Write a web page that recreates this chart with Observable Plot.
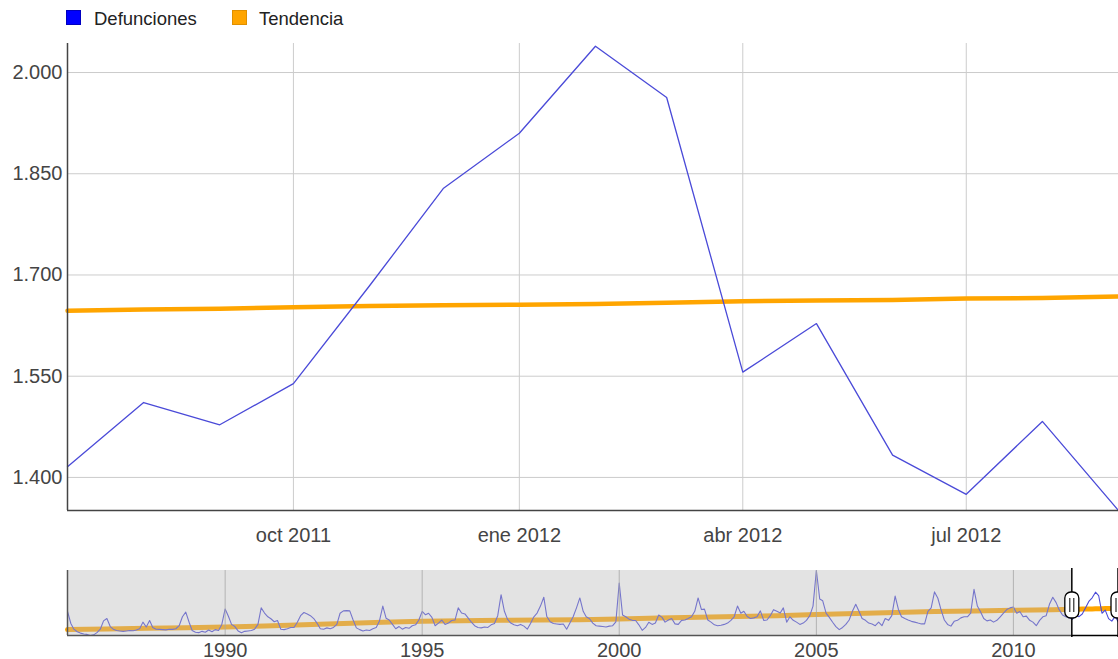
<!DOCTYPE html>
<html><head><meta charset="utf-8">
<script src="https://cdn.jsdelivr.net/npm/d3@7"></script>
<script src="https://cdn.jsdelivr.net/npm/@observablehq/plot@0.6"></script>
<style>
body{margin:0;background:#fff;font-family:"Liberation Sans",Arial,sans-serif;overflow:hidden}
#legend{height:36px;position:relative;font-size:18.5px;color:#222}
.sw{position:absolute;top:10px;width:15px;height:15px;box-sizing:border-box}
.lt{position:absolute;top:8px;line-height:22px}
#main,#mini{line-height:0}
</style></head><body>
<div id="legend"></div>
<div id="main"></div>
<div id="mini"></div>
<script>
// ---- Data: monthly deaths (Defunciones), Jan..Dec each year ----
const m1986 = [1597, 1320, 1190, 1130, 1100, 1080, 1070, 1045, 1060, 1110, 1190, 1380];
const m1987 = [1434, 1250, 1190, 1160, 1150, 1140, 1150, 1160, 1155, 1170, 1200, 1352];
const m1988 = [1240, 1390, 1230, 1190, 1185, 1180, 1175, 1190, 1185, 1200, 1270, 1475];
const m1989 = [1580, 1350, 1160, 1120, 1110, 1140, 1120, 1170, 1130, 1180, 1160, 1300];
const m1990 = [1654, 1480, 1300, 1250, 1150, 1110, 1140, 1150, 1160, 1190, 1300, 1680];
const m1991 = [1560, 1475, 1430, 1360, 1390, 1190, 1180, 1200, 1230, 1230, 1350, 1500];
const m1992 = [1573, 1540, 1500, 1434, 1330, 1200, 1190, 1220, 1200, 1230, 1300, 1556];
const m1993 = [1610, 1615, 1610, 1400, 1220, 1180, 1150, 1170, 1160, 1200, 1230, 1380];
const m1994 = [1720, 1440, 1400, 1300, 1200, 1250, 1190, 1230, 1210, 1270, 1290, 1400];
const m1995 = [1597, 1520, 1556, 1460, 1270, 1330, 1400, 1300, 1330, 1390, 1400, 1679];
const m1996 = [1560, 1540, 1450, 1350, 1270, 1230, 1220, 1240, 1230, 1290, 1320, 1500];
const m1997 = [1981, 1600, 1420, 1330, 1290, 1270, 1300, 1260, 1190, 1320, 1475, 1560];
const m1998 = [1720, 1924, 1480, 1360, 1320, 1310, 1300, 1310, 1190, 1330, 1480, 1680];
const m1999 = [1907, 1600, 1475, 1430, 1330, 1270, 1260, 1250, 1240, 1260, 1270, 1360];
const m2000 = [2251, 1515, 1475, 1420, 1393, 1390, 1290, 1164, 1230, 1350, 1300, 1330];
const m2001 = [1515, 1460, 1352, 1400, 1434, 1311, 1300, 1393, 1400, 1434, 1475, 1600];
const m2002 = [1907, 1640, 1650, 1400, 1352, 1290, 1270, 1280, 1300, 1330, 1393, 1475];
const m2003 = [1720, 1556, 1600, 1480, 1434, 1450, 1475, 1610, 1393, 1400, 1500, 1638];
const m2004 = [1600, 1560, 1679, 1350, 1475, 1393, 1352, 1300, 1330, 1393, 1500, 1720];
const m2005 = [2537, 1883, 1842, 1560, 1460, 1350, 1250, 1180, 1230, 1300, 1400, 1600];
const m2006 = [1760, 1597, 1434, 1393, 1330, 1311, 1270, 1352, 1270, 1434, 1393, 1500];
const m2007 = [1948, 1638, 1475, 1434, 1400, 1370, 1352, 1330, 1311, 1311, 1597, 1679];
const m2008 = [2046, 1900, 1640, 1400, 1300, 1260, 1370, 1393, 1450, 1475, 1475, 1556];
const m2009 = [2104, 1720, 1597, 1434, 1380, 1400, 1352, 1393, 1475, 1556, 1640, 1679];
const m2010 = [1700, 1556, 1597, 1475, 1490, 1393, 1352, 1270, 1393, 1475, 1500, 1760];
const m2011 = [1924, 1800, 1638, 1515, 1475, 1450, 1416, 1511, 1478, 1539, 1684, 1828];
const m2012 = [1910, 2039, 1963, 1556, 1628, 1433, 1375, 1483, 1351];
const firstYear = 1986;
const yearlySeries = [m1986, m1987, m1988, m1989, m1990, m1991, m1992, m1993, m1994, m1995,
  m1996, m1997, m1998, m1999, m2000, m2001, m2002, m2003, m2004, m2005, m2006, m2007,
  m2008, m2009, m2010, m2011, m2012];

// ---- Trend (Tendencia): January values for the long history, monthly for the recent window ----
const trendYears = [1986,1987,1988,1989,1990,1991,1992,1993,1994,1995,1996,1997,1998,1999,
  2000,2001,2002,2003,2004,2005,2006,2007,2008,2009,2010,2011];
const trendJan = [1180,1195,1210,1225,1240,1265,1290,1318,1350,1370,1382,1393,1400,1408,
  1425,1445,1462,1480,1500,1525,1550,1572,1595,1610,1622,1635];
const trendRecentMonths = ["2011-07","2011-08","2011-09","2011-10","2011-11","2011-12",
  "2012-01","2012-02","2012-03","2012-04","2012-05","2012-06","2012-07","2012-08","2012-09"];
const trendRecent = [1647,1649,1650,1652,1654,1655,1656,1657,1659,1661,1662,1663,1665,1666,1668];

// ---- Ticks / labels ----
const yTicks = [1400, 1550, 1700, 1850, 2000];
const xTickMonths = ["2011-10", "2012-01", "2012-04", "2012-07"];
const xTickLabels = ["oct 2011", "ene 2012", "abr 2012", "jul 2012"];
const miniTickYears = [1990, 1995, 2000, 2005, 2010];
const seriesNames = ["Defunciones", "Tendencia"];
const seriesColors = ["#0000ff", "#ffa500"];

const viewStart = "2011-07", viewEnd = "2012-09";

// ---- Build tables ----
const ym = s => { const [y, m] = s.split("-").map(Number); return new Date(Date.UTC(y, m - 1, 1)); };
const deaths = yearlySeries.flatMap((arr, yi) =>
  arr.map((v, mi) => ({date: new Date(Date.UTC(firstYear + yi, mi, 1)), value: v})));
const trend = trendYears.map((y, i) => ({date: new Date(Date.UTC(y, 0, 1)), value: trendJan[i]}))
  .concat(trendRecentMonths.map((s, i) => ({date: ym(s), value: trendRecent[i]})));
const t0 = ym(viewStart), t1 = ym(viewEnd);
const deathsView = deaths.filter(d => d.date >= t0 && d.date <= t1);
const trendView = trend.filter(d => d.date >= t0 && d.date <= t1);
const xTicks = xTickMonths.map(ym);
const labelMap = new Map(xTicks.map((d, i) => [+d, xTickLabels[i]]));
const fmt = d3.formatLocale({decimal: ",", thousands: ".", grouping: [3], currency: ["", "€"]}).format(",d");

// ---- Legend ----
const legend = document.getElementById("legend");
const legendX = [[66, 94], [232, 259]];
seriesNames.forEach((n, i) => {
  const s = document.createElement("div"); s.className = "sw";
  s.style.left = legendX[i][0] + "px"; s.style.background = seriesColors[i];
  s.style.border = "1px solid " + (i ? "#e09000" : "#0000c0");
  const t = document.createElement("div"); t.className = "lt";
  t.style.left = legendX[i][1] + "px"; t.textContent = n;
  legend.append(s, t);
});

const font = {fontFamily: "'Liberation Sans', Arial, sans-serif", fontSize: "20px", background: "transparent", overflow: "visible"};
const yMin = 1351, yMax = 2043;

// ---- Main chart ----
const main = Plot.plot({
  width: 1118, height: 524,
  marginLeft: 67, marginRight: 0, marginTop: 7, marginBottom: 50,
  style: font,
  x: {type: "utc", domain: [t0, t1]},
  y: {domain: [yMin, yMax]},
  marks: [
    Plot.gridX(xTicks, {stroke: "#cccccc", strokeOpacity: 1}),
    Plot.gridY(yTicks, {stroke: "#cccccc", strokeOpacity: 1}),
    Plot.axisY(yTicks, {tickSize: 0, tickPadding: 5, tickFormat: fmt, fill: "#444", label: null}),
    Plot.axisX(xTicks, {tickSize: 0, tickPadding: 17, tickFormat: d => labelMap.get(+d), fill: "#444", label: null}),
    Plot.line(trendView, {x: "date", y: "value", stroke: seriesColors[1], strokeWidth: 4.5}),
    Plot.line(deathsView, {x: "date", y: "value", stroke: "#4a4ad8", strokeWidth: 1.3}),
    Plot.ruleX([t0], {stroke: "#444", strokeWidth: 1.5}),
    Plot.ruleY([yMin], {stroke: "#444", strokeWidth: 1.5})
  ]
});
document.getElementById("main").append(main);

// ---- Overview (range selector) chart ----
const mStart = deaths[0].date;
const ext = d3.extent(deaths, d => d.value);
const yearDates = miniTickYears.map(y => new Date(Date.UTC(y, 0, 1)));
const mini = Plot.plot({
  width: 1118, height: 99,
  marginLeft: 67, marginRight: 0, marginTop: 10, marginBottom: 24,
  style: font,
  x: {type: "utc", domain: [mStart, t1]},
  y: {domain: ext, axis: null},
  marks: [
    Plot.line(trend, {x: "date", y: "value", stroke: seriesColors[1], strokeWidth: 5}),
    Plot.line(deaths, {x: "date", y: "value", stroke: "#4a4ad8", strokeWidth: 1.1}),
    Plot.rect([{a: mStart, b: t0}], {x1: "a", x2: "b", fill: "#b8b8b8", fillOpacity: 0.4}),
    Plot.gridX(yearDates, {stroke: "#a8a8a8", strokeOpacity: 0.8}),
    Plot.axisX(yearDates, {tickSize: 0, tickPadding: 7, tickFormat: d => String(d.getUTCFullYear()), fill: "#444", label: null}),
    Plot.ruleX([mStart], {stroke: "#555", strokeWidth: 1.5}),
    Plot.ruleY([ext[0]], {x1: mStart, x2: t0, stroke: "#555", strokeWidth: 1.5}),
    Plot.ruleY([ext[0]], {x1: t0, x2: t1, stroke: "#000", strokeWidth: 1.5})
  ]
});
document.getElementById("mini").append(mini);

// selection handles
const sx = mini.scale("x");
const svg = d3.select(mini);
[t0, t1].forEach(d => {
  const x = sx.apply(d);
  const g = svg.append("g");
  g.append("line").attr("x1", x).attr("x2", x).attr("y1", 8).attr("y2", 77)
    .attr("stroke", "#000").attr("stroke-width", 1.5);
  g.append("rect").attr("x", x - 7).attr("y", 32).attr("width", 14).attr("height", 26).attr("rx", 6)
    .attr("fill", "#fff").attr("stroke", "#000").attr("stroke-width", 1.3);
  [-2, 2].forEach(o => g.append("line").attr("x1", x + o).attr("x2", x + o).attr("y1", 38).attr("y2", 52)
    .attr("stroke", "#000").attr("stroke-width", 1));
});
</script></body></html>
